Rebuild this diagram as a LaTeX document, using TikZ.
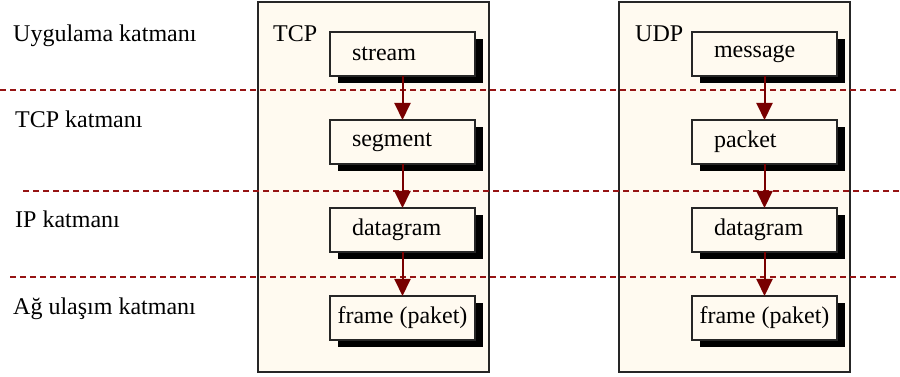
\documentclass[tikz,border=0pt]{standalone}
\usepackage{fontspec}
\setmainfont{Liberation Serif}
\usetikzlibrary{positioning,shadows,arrows.meta}

\definecolor{paper}{RGB}{255,250,240}
\definecolor{seprd}{RGB}{150,20,20}
\definecolor{flowrd}{RGB}{120,0,0}

\tikzset{
  stack/.style={draw=black!85,line width=1.5pt,fill=paper,inner sep=0pt,outer sep=0pt},
  pdubox/.style={draw=black!85,line width=1.2pt,fill=paper,minimum height=44pt,
    inner ysep=0pt,outer sep=0pt,
    drop shadow={shadow xshift=8pt,shadow yshift=-7pt,fill=black,opacity=1}},
  pdu/.style={pdubox,text width=101pt,inner xsep=22pt,align=left},
  widepdu/.style={pdubox,minimum width=145pt,inner xsep=4pt},
  layer/.style={anchor=base west,inner sep=0pt},
  sep/.style={seprd,line width=1.4pt,dash pattern=on 6pt off 4pt},
  flow/.style={flowrd,line width=2pt,-{Triangle[width=16pt,length=17pt]}}
}

\begin{document}
\begin{tikzpicture}[x=1pt,y=1pt,font=\fontsize{24}{28}\selectfont,node distance=44pt]
\useasboundingbox (0,0) rectangle (900,377);

% the two protocol stacks
\node[stack,minimum width=231pt,minimum height=370pt,anchor=south west] (tcp) at (258,5) {};
\node[stack,minimum width=231pt,minimum height=370pt,anchor=south west] (udp) at (619,5) {};
\node[layer] (tcplbl) at (273,335) {TCP};
\node[layer] (udplbl) at (635,335) {UDP};

% layer names on the left
\node[layer] (app) at (13,335) {Uygulama katmanı};
\node[layer] (tl) at (15,249) {TCP katmanı};
\node[layer] (ipl) at (15,149) {IP katmanı};
\node[layer] (net) at (13,62) {Ağ ulaşım katmanı};

% layer borders
\coordinate (b1l) at (0,287);   \coordinate (b1r) at (900,287);
\coordinate (b2l) at (23,186);  \coordinate (b2r) at (900,186);
\coordinate (b3l) at (10,100);  \coordinate (b3r) at (900,100);
\draw[sep] (b1l) -- (b1r);
\draw[sep] (b2l) -- (b2r);
\draw[sep] (b3l) -- (b3r);

% TCP side
\node[pdu,anchor=north west] (stream) at (330,345) {stream};
\node[pdu,below=of stream] (segment) {segment};
\node[pdu,below=of segment] (tcpdg) {datagram};
\node[widepdu,below=of tcpdg] (tcpfr) {frame (paket)};

% UDP side
\node[pdu,anchor=north west] (message) at (692,345) {message};
\node[pdu,below=of message] (packet) {packet};
\node[pdu,below=of packet] (udpdg) {datagram};
\node[widepdu,below=of udpdg] (udpfr) {frame (paket)};

\draw[flow] (stream) -- (segment);
\draw[flow] (segment) -- (tcpdg);
\draw[flow] (tcpdg) -- (tcpfr);

\draw[flow] (message) -- (packet);
\draw[flow] (packet) -- (udpdg);
\draw[flow] (udpdg) -- (udpfr);
\end{tikzpicture}
\end{document}
